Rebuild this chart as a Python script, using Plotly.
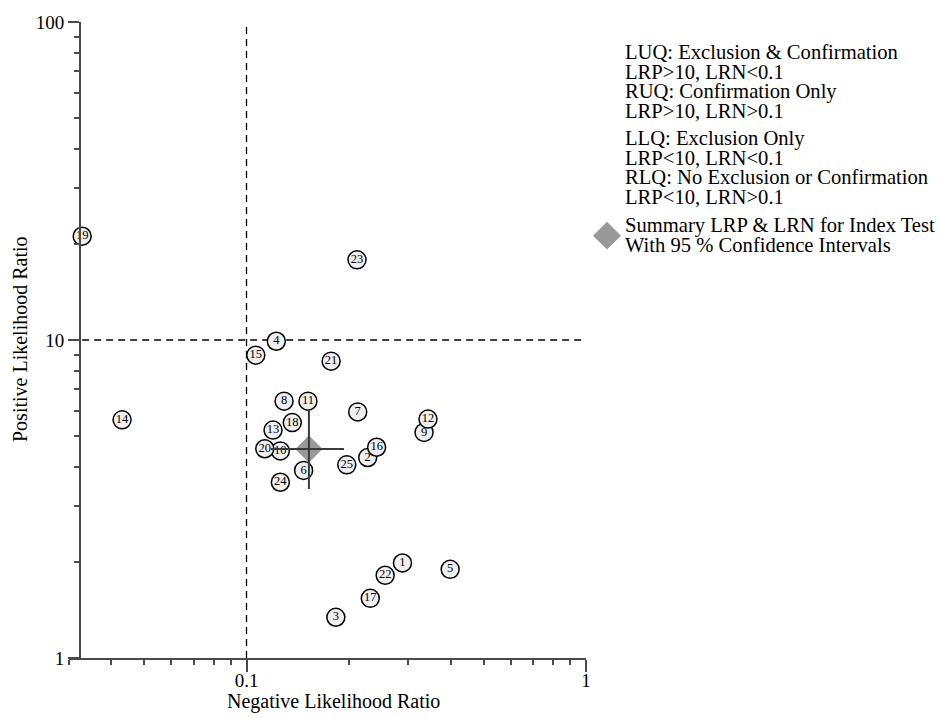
import plotly.graph_objects as go
import math

# ---------------- data ----------------
study_ids = [str(i) for i in range(1, 26)]
lrn = [0.288, 0.2275, 0.1833, 0.1224, 0.398, 0.1473, 0.2126, 0.129, 0.3334, 0.1258,
       0.1517, 0.3424, 0.1197, 0.043, 0.1065, 0.2417, 0.2315, 0.1364, 0.0328, 0.1132,
       0.1775, 0.2561, 0.2116, 0.1258, 0.1974]
lrp = [1.99, 4.27, 1.343, 9.91, 1.90, 3.89, 5.94, 6.42, 5.12, 4.48,
       6.42, 5.64, 5.21, 5.61, 8.96, 4.60, 1.54, 5.50, 21.2, 4.55,
       8.58, 1.82, 17.87, 3.57, 4.05]
summary_lrn = 0.1527
summary_lrn_ci = [0.118, 0.1937]
summary_lrp = 4.54
summary_lrp_ci = [3.40, 6.03]
lrn_threshold = 0.1
lrp_threshold = 10

x_range = [0.03, 1]
y_range = [1, 100]
x_major = [0.1, 1]
x_minor = [0.03, 0.04, 0.05, 0.06, 0.07, 0.08, 0.09, 0.2, 0.3, 0.4, 0.5, 0.6, 0.7, 0.8, 0.9]
y_major = [1, 10, 100]
y_minor = [2, 3, 4, 5, 6, 7, 8, 9, 20, 30, 40, 50, 60, 70, 80, 90]

legend_lines = [
    "LUQ: Exclusion & Confirmation", "LRP>10, LRN<0.1",
    "RUQ: Confirmation Only", "LRP>10, LRN>0.1",
    "LLQ: Exclusion Only", "LRP<10, LRN<0.1",
    "RLQ: No Exclusion or Confirmation", "LRP<10, LRN>0.1",
]
summary_label = ["Summary LRP & LRN for Index Test", "With 95 % Confidence Intervals"]

# ---------------- layout geometry (page pixels) ----------------
W, H = 940, 718
PLOT_L, PLOT_R, PLOT_T, PLOT_B = 69, 586, 18, 658
L, T, R, B = PLOT_L, PLOT_T, W - PLOT_R, H - PLOT_B
PW, PH = W - L - R, H - T - B


def px(x):
    return (x - PLOT_L) / PW


def py(y):
    return 1 - (y - PLOT_T) / PH


FONT = "Liberation Serif, Times New Roman, serif"
AX = "#4a4a4a"

fig = go.Figure()

# threshold dashed lines
fig.add_trace(go.Scatter(x=[lrn_threshold, lrn_threshold], y=y_range, mode="lines",
                         line=dict(color="black", width=1.3, dash="7px,5px"),
                         hoverinfo="skip", showlegend=False, cliponaxis=False))
fig.add_trace(go.Scatter(x=[0.0328, x_range[1]], y=[lrp_threshold, lrp_threshold], mode="lines",
                         line=dict(color="black", width=1.3, dash="7px,5px"),
                         hoverinfo="skip", showlegend=False, cliponaxis=False))

# summary diamond
fig.add_trace(go.Scatter(x=[summary_lrn], y=[summary_lrp], mode="markers",
                         marker=dict(symbol="diamond", size=21, color="#999999",
                                     line=dict(width=0)),
                         showlegend=False, cliponaxis=False))

# study points
fig.add_trace(go.Scatter(x=lrn, y=lrp, mode="markers+text", text=study_ids,
                         textposition="middle center",
                         textfont=dict(family=FONT, size=12.5, color="black"),
                         marker=dict(symbol="circle", size=18, color="#efefef",
                                     line=dict(color="black", width=1.5)),
                         showlegend=False, cliponaxis=False))

# CI lines
fig.add_trace(go.Scatter(x=summary_lrn_ci, y=[summary_lrp, summary_lrp], mode="lines",
                         line=dict(color="#3a3a3a", width=2), showlegend=False))
fig.add_trace(go.Scatter(x=[summary_lrn, summary_lrn], y=summary_lrp_ci, mode="lines",
                         line=dict(color="#3a3a3a", width=2), showlegend=False))

fig.update_layout(
    width=W, height=H,
    margin=dict(l=L, r=R, t=T, b=B),
    plot_bgcolor="white", paper_bgcolor="white",
    font=dict(family=FONT, color="black", size=19),
    xaxis=dict(type="log", range=[math.log10(x_range[0]), math.log10(x_range[1])],
               showgrid=False, zeroline=False, showline=True, linecolor=AX, linewidth=2,
               tickmode="array", tickvals=x_major, ticktext=["0.1", "1"],
               ticks="outside", ticklen=12, tickwidth=1.5, tickcolor=AX,
               ticklabelstandoff=-8, ticklabeloverflow="allow",
               tickfont=dict(family=FONT, size=19, color="black"),
               minor=dict(tickmode="array", tickvals=x_minor, ticks="outside",
                          ticklen=5, tickwidth=1.5, tickcolor=AX, showgrid=False),
               anchor="y"),
    yaxis=dict(type="log", range=[math.log10(y_range[0]), math.log10(y_range[1])],
               showgrid=False, zeroline=False, showline=True, linecolor=AX, linewidth=2,
               tickmode="array", tickvals=y_major, ticktext=["1", "10", "100"],
               ticks="outside", ticklen=11, tickwidth=1.5, tickcolor=AX,
               ticklabeloverflow="allow",
               tickfont=dict(family=FONT, size=19, color="black"),
               minor=dict(tickmode="array", tickvals=y_minor, ticks="outside",
                          ticklen=5, tickwidth=1.5, tickcolor=AX, showgrid=False),
               anchor="free", position=px(80)),
)

annotations = []
# axis titles
annotations.append(dict(text="Negative Likelihood Ratio", x=px(333), y=py(702),
                        xref="paper", yref="paper", showarrow=False,
                        xanchor="center", yanchor="middle",
                        font=dict(family=FONT, size=20, color="black")))
annotations.append(dict(text="Positive Likelihood Ratio", x=px(20), y=py(337),
                        xref="paper", yref="paper", showarrow=False, textangle=-90,
                        xanchor="center", yanchor="middle",
                        font=dict(family=FONT, size=20, color="black")))

legend_y = [48, 68, 88, 108, 135, 155, 174, 194]
for txt, yy in zip(legend_lines, legend_y):
    annotations.append(dict(text=txt, x=px(623), y=py(yy), xref="paper", yref="paper",
                            showarrow=False, xanchor="left", yanchor="middle",
                            font=dict(family=FONT, size=20.6, color="black")))
for txt, yy in zip(summary_label, [223, 242]):
    annotations.append(dict(text=txt, x=px(623), y=py(yy), xref="paper", yref="paper",
                            showarrow=False, xanchor="left", yanchor="middle",
                            font=dict(family=FONT, size=20.6, color="black")))
fig.update_layout(annotations=annotations)

# legend diamond icon
cx, cy, hw = 607, 233, 14
fig.add_shape(type="path", xref="paper", yref="paper",
              path=f"M {px(cx-hw)},{py(cy)} L {px(cx)},{py(cy-hw)} L {px(cx+hw)},{py(cy)} L {px(cx)},{py(cy+hw)} Z",
              fillcolor="#999999", line=dict(width=0))

# remove the default 8px body margin so the figure fills the window exactly
fig.write_html("out.html",
               config={"displayModeBar": False},
               post_script="document.body.style.margin='0px';document.body.style.overflow='hidden';")
